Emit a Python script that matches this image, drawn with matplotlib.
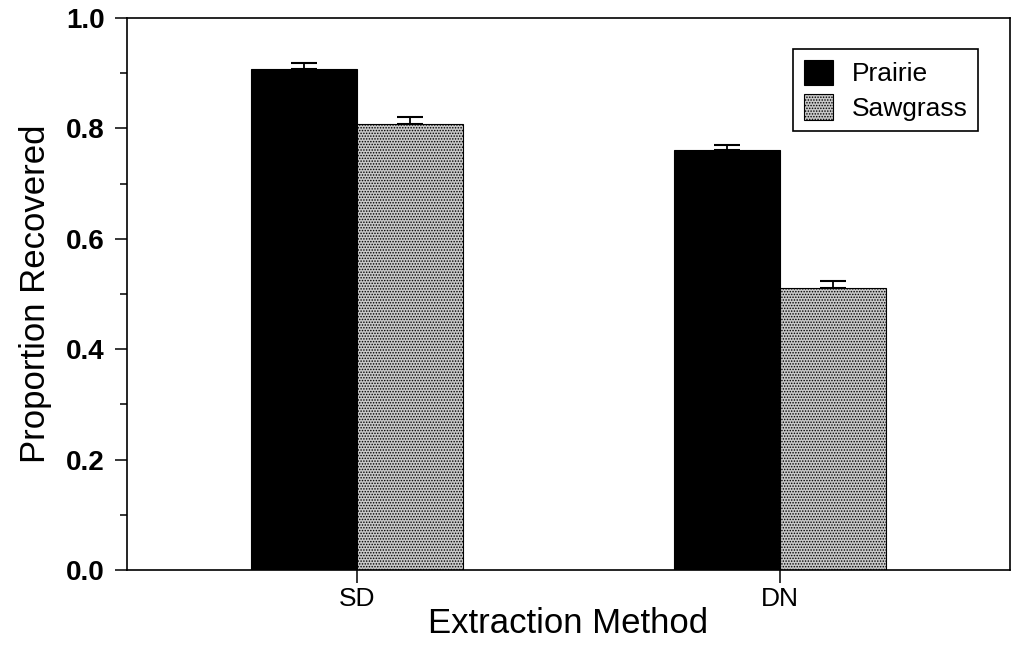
import matplotlib.pyplot as plt
import numpy as np

plt.rcParams["font.family"] = ["Liberation Sans", "DejaVu Sans"]
plt.rcParams["hatch.linewidth"] = 0.7

methods = ["SD", "DN"]
prairie = [0.908, 0.761]
prairie_err = [0.010, 0.009]
sawgrass = [0.808, 0.511]
sawgrass_err = [0.013, 0.013]

x = np.arange(len(methods))
w = 0.25

fig = plt.figure(figsize=(10.14, 6.54), dpi=100)
ax = fig.add_axes([0.1252, 0.1284, 0.8708, 0.844])

ax.bar(x - w / 2, prairie, w, color="black", edgecolor="black", linewidth=0.8,
       label="Prairie")
ax.bar(x + w / 2, sawgrass, w, color="#c8c8c8", edgecolor="black", linewidth=0.8,
       hatch="......", label="Sawgrass")
ax.errorbar(x - w / 2, prairie, yerr=[np.zeros(2), prairie_err], fmt="none",
            ecolor="black", elinewidth=1.3, capsize=9.5, capthick=1.5)
ax.errorbar(x + w / 2, sawgrass, yerr=[np.zeros(2), sawgrass_err], fmt="none",
            ecolor="black", elinewidth=1.3, capsize=9.5, capthick=1.5)

ax.set_xlim(-0.544, 1.544)
ax.set_ylim(0, 1.0)
ax.set_xticks(x)
ax.set_xticklabels(methods, fontsize=19)
yt = np.arange(0, 1.01, 0.2)
ax.set_yticks(yt)
ax.set_yticklabels([f"{v:.1f}" for v in yt], fontsize=20, fontweight="bold")
ax.set_yticks(np.arange(0.1, 1.0, 0.2), minor=True)
ax.tick_params(axis="both", which="major", direction="out", length=9, width=1.1)
ax.tick_params(axis="y", which="minor", direction="out", length=5, width=1.1)
ax.tick_params(axis="x", pad=3)
ax.tick_params(axis="y", pad=7)
for s in ax.spines.values():
    s.set_linewidth(1.2)

ax.set_xlabel("Extraction Method", fontsize=25, labelpad=-3)
ax.set_ylabel("Proportion Recovered", fontsize=25, labelpad=10)

leg = ax.legend(loc="upper right", bbox_to_anchor=(0.9638, 0.9438),
                borderaxespad=0, fontsize=19, fancybox=False, edgecolor="black",
                framealpha=1, handlelength=1.1, handleheight=1.1,
                handletextpad=0.7, borderpad=0.4, labelspacing=0.3)
leg.get_frame().set_linewidth(1.2)

fig.savefig("out.png", dpi=100)
